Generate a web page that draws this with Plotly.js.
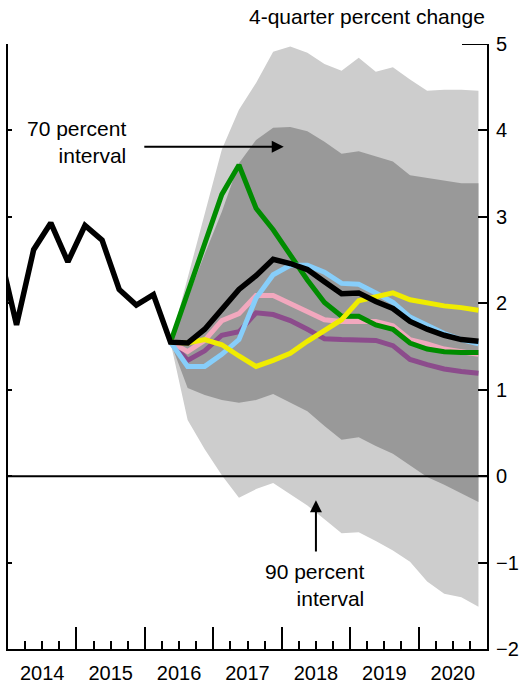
<!DOCTYPE html>
<html>
<head>
<meta charset="utf-8">
<script src="https://cdn.plot.ly/plotly-3.0.1.min.js"></script>
<style>html,body{margin:0;padding:0;background:#fff;}#chart{width:522px;height:688px;}</style>
</head>
<body>
<div id="chart"></div>
<script>
// ---- data (4-quarter percent change) ----
const baselineStart = '2013Q4';
const baseline = [2.60, 1.75, 2.62, 2.93, 2.48, 2.90, 2.73, 2.16, 1.98, 2.10,
  1.55, 1.54, 1.70, 1.92, 2.16, 2.32, 2.51, 2.46, 2.39, 2.25, 2.11,
  2.12, 2.02, 1.94, 1.79, 1.70, 1.63, 1.58, 1.56];

const projStart = '2016Q2';
const green  = [1.55, 2.12, 2.68, 3.26, 3.60, 3.10, 2.85, 2.56, 2.27, 2.01, 1.85, 1.85, 1.75, 1.70, 1.54, 1.47, 1.44, 1.43, 1.43];
const yellow = [1.55, 1.54, 1.58, 1.52, 1.39, 1.27, 1.34, 1.42, 1.56, 1.69, 1.81, 2.03, 2.08, 2.12, 2.04, 2.00, 1.97, 1.95, 1.92];
const blue   = [1.55, 1.27, 1.27, 1.41, 1.58, 2.06, 2.33, 2.44, 2.44, 2.36, 2.23, 2.22, 2.12, 2.01, 1.84, 1.74, 1.65, 1.58, 1.53];
const pink   = [1.55, 1.44, 1.57, 1.80, 1.88, 2.09, 2.09, 2.00, 1.90, 1.81, 1.79, 1.79, 1.79, 1.74, 1.58, 1.53, 1.47, 1.44, 1.41];
const purple = [1.55, 1.34, 1.45, 1.63, 1.67, 1.89, 1.87, 1.80, 1.70, 1.59, 1.58, 1.57, 1.57, 1.51, 1.35, 1.29, 1.24, 1.21, 1.19];

const band90Upper = [1.55, 2.30, 3.05, 3.78, 4.24, 4.55, 4.91, 4.97, 4.90, 4.77, 4.69, 4.84, 4.68, 4.73, 4.59, 4.46, 4.47, 4.47, 4.46];
const band70Upper = [1.55, 2.07, 2.57, 3.06, 3.62, 3.89, 4.03, 4.04, 3.99, 3.87, 3.73, 3.76, 3.70, 3.64, 3.48, 3.45, 3.42, 3.39, 3.39];
const band70Lower = [1.55, 1.02, 0.94, 0.88, 0.85, 0.88, 0.95, 0.85, 0.75, 0.58, 0.42, 0.45, 0.35, 0.26, 0.13, -0.01, -0.10, -0.20, -0.30];
const band90Lower = [1.55, 0.65, 0.31, 0.01, -0.25, -0.15, -0.08, -0.21, -0.34, -0.50, -0.66, -0.65, -0.75, -0.86, -0.99, -1.22, -1.36, -1.40, -1.51];

const yearLabels = ['2014', '2015', '2016', '2017', '2018', '2019', '2020'];
const yTicks = [-2, -1, 0, 1, 2, 3, 4, 5];

// ---- helpers: quarter label -> numeric time (mid-quarter) ----
function qNum(label) { return +label.slice(0, 4) + (+label.slice(5) - 0.5) / 4; }
function series(start, n) { const s = qNum(start); return Array.from({length: n}, (_, i) => s + i * 0.25); }

const xBase = series(baselineStart, baseline.length);
const xProj = series(projStart, green.length);

const FONT = 'Liberation Sans, Arial, Helvetica, sans-serif';
const LW = 5;

function band(y, fill, color) {
  return {x: xProj, y: y, type: 'scatter', mode: 'lines', line: {width: 0, color: color},
          fill: fill, fillcolor: color, hoverinfo: 'skip', showlegend: false};
}
function line(x, y, color, w) {
  return {x: x, y: y, type: 'scatter', mode: 'lines', line: {color: color, width: w || LW},
          hoverinfo: 'skip', showlegend: false};
}

const traces = [
  band(band90Lower, 'none', '#cdcdcd'),
  band(band90Upper, 'tonexty', '#cdcdcd'),
  band(band70Lower, 'none', '#999999'),
  band(band70Upper, 'tonexty', '#999999'),
  line(xProj, purple, '#8c4c8c'),
  line(xProj, pink, '#f2a8be'),
  line(xProj, green, '#008c00'),
  line(xProj, blue, '#87cefa'),
  line(xProj, yellow, '#f0ec00'),
  line(xBase, baseline, '#000000', 5.5),
  {x: [], y: [], xaxis: 'x2', yaxis: 'y2', type: 'scatter', mode: 'lines', showlegend: false, hoverinfo: 'skip'}
];

const yearStarts = yearLabels.map(s => +s).concat([+yearLabels[yearLabels.length - 1] + 1]);
const yearMids = yearLabels.map(s => +s + 0.5);

const layout = {
  width: 522, height: 688,
  margin: {l: 8, r: 35, t: 44, b: 39},
  paper_bgcolor: '#fff', plot_bgcolor: 'rgba(0,0,0,0)',
  showlegend: false,
  font: {family: FONT, size: 20, color: '#000'},
  xaxis: {
    range: [2014, 2021], tickmode: 'array', tickvals: yearStarts,
    ticks: 'inside', ticklen: 22, tickwidth: 2, tickcolor: '#000',
    showticklabels: false, showline: true, linewidth: 2, linecolor: '#000',
    showgrid: false, zeroline: false,
    minor: {tick0: 2014, dtick: 0.25, ticks: 'inside', ticklen: 8, tickwidth: 2, tickcolor: '#000', showgrid: false}
  },
  xaxis2: {
    overlaying: 'x', anchor: 'y', side: 'bottom', range: [2014, 2021],
    tickmode: 'array', tickvals: yearMids, ticktext: yearLabels,
    ticks: '', showline: false, showgrid: false, zeroline: false,
    tickfont: {family: FONT, size: 20, color: '#000'}, ticklabelstandoff: 10
  },
  yaxis: {
    side: 'right', range: [-2, 5], tickmode: 'array', tickvals: yTicks,
    ticks: 'inside', ticklen: 9, tickwidth: 2, tickcolor: '#000',
    showline: true, linewidth: 2, linecolor: '#000', showgrid: false, zeroline: false,
    tickfont: {family: FONT, size: 20, color: '#000'}, ticklabelstandoff: 3
  },
  yaxis2: {
    overlaying: 'y', anchor: 'x', side: 'left', range: [-2, 5], tickmode: 'array', tickvals: yTicks,
    ticks: 'inside', ticklen: 4, tickwidth: 2, tickcolor: '#000',
    showticklabels: false, showline: true, linewidth: 2, linecolor: '#000', showgrid: false, zeroline: false
  },
  shapes: [
    {type: 'line', xref: 'x', yref: 'y', x0: 2014, x1: 2021, y0: 0, y1: 0, line: {color: '#000', width: 2}, layer: 'above'},
    {type: 'line', xref: 'x', yref: 'y', x0: 2020.635, x1: 2021, y0: 5, y1: 5, line: {color: '#000', width: 2}, layer: 'above'}
  ],
  annotations: [
    {xref: 'paper', yref: 'paper', x: 1, y: 1.045, xanchor: 'right', yanchor: 'middle', showarrow: false,
     text: '4-quarter percent change', font: {family: FONT, size: 21, color: '#000'}},
    {xref: 'x', yref: 'y', x: 2015.754, y: 3.87, xanchor: 'right', yanchor: 'middle', align: 'right', showarrow: false,
     text: '70 percent<br>interval', font: {family: FONT, size: 21, color: '#000'}},
    {xref: 'x', yref: 'y', x: 2018.03, y: 3.81, ax: 2015.97, ay: 3.81, axref: 'x', ayref: 'y', text: '',
     showarrow: true, arrowhead: 2, arrowsize: 1.2, arrowwidth: 2, arrowcolor: '#000'},
    {xref: 'x', yref: 'y', x: 2019.23, y: -1.26, xanchor: 'right', yanchor: 'middle', align: 'right', showarrow: false,
     text: '90 percent<br>interval', font: {family: FONT, size: 21, color: '#000'}},
    {xref: 'x', yref: 'y', x: 2018.5, y: -0.28, ax: 2018.5, ay: -0.89, axref: 'x', ayref: 'y', text: '',
     showarrow: true, arrowhead: 2, arrowsize: 1.2, arrowwidth: 2, arrowcolor: '#000'}
  ]
};

Plotly.newPlot('chart', traces, layout, {staticPlot: true, displayModeBar: false});
</script>
</body>
</html>
